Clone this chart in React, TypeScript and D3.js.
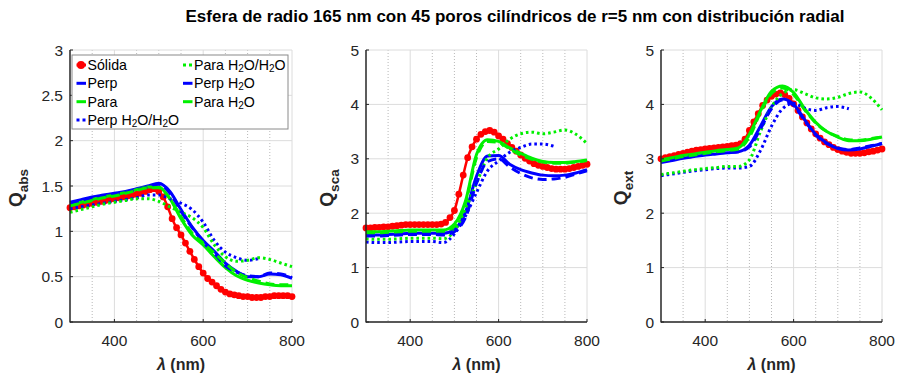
import React from 'react';
import * as d3 from 'd3';

// ---------- DATA ----------
const TITLE = 'Esfera de radio 165 nm con 45 poros cilíndricos de r=5 nm con distribución radial';
const LAMBDA_FINE = d3.range(300, 801, 10); // wavelengths of the "Sólida" samples
const LAMBDA = d3.range(300, 801, 25); // wavelengths of the other series
const X_TICKS = [400, 600, 800];
const X_MINOR = [350, 450, 500, 550, 650, 700, 750];
const ABS_TICKS = [0, 0.5, 1, 1.5, 2, 2.5, 3];
const SCA_TICKS = [0, 1, 2, 3, 4, 5];
const EXT_TICKS = [0, 1, 2, 3, 4, 5];

// Q_abs
const absSolida = [1.26,1.27,1.28,1.29,1.30,1.31,1.32,1.33,1.34,1.35,
  1.36,1.37,1.38,1.39,1.40,1.41,1.42,1.44,1.46,1.47,
  1.44,1.38,1.27,1.14,1.04,0.96,0.87,0.78,0.69,0.61,
  0.54,0.48,0.44,0.40,0.36,0.33,0.31,0.30,0.29,0.28,
  0.28,0.27,0.27,0.27,0.28,0.28,0.29,0.29,0.29,0.29,0.28];
const absPerp = [1.32,1.35,1.38,1.40,1.42,1.44,1.47,1.50,1.53,1.44,1.24,1.05,0.90,0.78,0.65,0.56,0.50,0.50,0.53,0.52,0.48];
const absPara = [1.29,1.32,1.35,1.38,1.40,1.43,1.46,1.49,1.49,1.36,1.14,0.96,0.85,0.72,0.60,0.51,0.46,0.43,0.41,0.40,0.40];
const absPerpWW = [1.25,1.27,1.29,1.31,1.33,1.35,1.37,1.40,1.40,1.36,1.31,1.24,1.10,0.90,0.77,0.71,0.68,0.70,null,null,null];
const absParaWW = [1.21,1.24,1.27,1.30,1.32,1.34,1.36,1.36,1.33,1.27,1.21,1.15,1.04,0.85,0.72,0.67,0.68,0.71,0.69,0.65,0.61];
const absPerpW = [1.31,1.34,1.37,1.39,1.41,1.43,1.46,1.49,1.52,1.42,1.22,1.04,0.88,0.76,0.62,0.55,0.51,0.50,0.54,0.53,0.49];
const absParaW = [1.28,1.31,1.34,1.37,1.39,1.42,1.45,1.48,1.48,1.36,1.16,0.98,0.87,0.76,0.65,0.55,0.49,0.45,0.42,0.41,0.41];

// Q_sca
const scaSolida = [1.73,1.73,1.74,1.74,1.75,1.75,1.76,1.77,1.78,1.79,
  1.79,1.79,1.79,1.79,1.79,1.79,1.79,1.80,1.83,1.92,
  2.05,2.35,2.70,3.02,3.22,3.36,3.45,3.50,3.52,3.49,
  3.42,3.36,3.28,3.21,3.14,3.07,3.01,2.96,2.91,2.88,
  2.86,2.84,2.82,2.81,2.81,2.81,2.82,2.84,2.86,2.88,2.90];
const scaPerp = [1.60,1.60,1.61,1.62,1.63,1.63,1.63,1.63,1.70,2.02,2.68,3.05,3.06,2.90,2.80,2.74,2.70,2.69,2.70,2.74,2.80];
const scaPara = [1.66,1.66,1.67,1.68,1.69,1.69,1.69,1.69,1.80,2.22,3.08,3.35,3.32,3.20,3.10,3.01,2.95,2.93,2.93,2.95,2.98];
const scaPerpWW = [1.47,1.46,1.46,1.47,1.48,1.48,1.48,1.46,1.62,1.95,2.38,2.78,2.96,3.12,3.21,3.27,3.27,3.23,null,null,null];
const scaParaWW = [1.53,1.52,1.52,1.53,1.54,1.54,1.54,1.53,1.68,2.08,2.55,3.02,3.18,3.36,3.46,3.49,3.46,3.49,3.53,3.45,3.28];
const scaPerpW = [1.58,1.58,1.59,1.60,1.61,1.61,1.61,1.60,1.66,1.92,2.55,2.95,3.00,2.85,2.73,2.65,2.62,2.63,2.66,2.72,2.78];
const scaParaW = [1.64,1.64,1.65,1.66,1.67,1.67,1.67,1.67,1.76,2.18,3.02,3.32,3.30,3.18,3.07,2.99,2.94,2.92,2.92,2.94,2.97];

// Q_ext
const extSolida = [3.00,3.02,3.04,3.06,3.08,3.10,3.12,3.14,3.16,3.17,
  3.18,3.19,3.20,3.21,3.22,3.23,3.24,3.25,3.28,3.36,
  3.52,3.68,3.83,3.98,4.08,4.15,4.19,4.21,4.18,4.11,
  4.01,3.89,3.77,3.66,3.55,3.46,3.38,3.31,3.26,3.21,
  3.17,3.14,3.12,3.10,3.10,3.10,3.11,3.13,3.14,3.16,3.18];
const extPerp = [2.93,2.97,3.01,3.04,3.07,3.09,3.11,3.13,3.25,3.60,3.96,4.10,4.00,3.72,3.45,3.29,3.19,3.16,3.18,3.23,3.28];
const extPara = [2.98,3.02,3.06,3.09,3.12,3.15,3.17,3.20,3.45,3.88,4.24,4.34,4.22,3.92,3.67,3.50,3.40,3.33,3.33,3.36,3.40];
const extPerpWW = [2.69,2.72,2.75,2.78,2.80,2.82,2.83,2.83,2.86,3.15,3.60,3.92,4.02,3.93,3.89,3.94,3.96,3.92,null,null,null];
const extParaWW = [2.71,2.74,2.77,2.80,2.82,2.84,2.86,2.86,2.98,3.50,3.95,4.20,4.27,4.20,4.12,4.10,4.13,4.20,4.23,4.12,3.90];
const extPerpW = [2.95,2.99,3.03,3.06,3.08,3.10,3.12,3.13,3.22,3.55,3.92,4.08,3.98,3.70,3.44,3.28,3.20,3.17,3.20,3.24,3.28];
const extParaW = [2.96,3.00,3.04,3.07,3.10,3.13,3.15,3.18,3.40,3.85,4.20,4.30,4.18,3.90,3.66,3.50,3.41,3.35,3.34,3.37,3.40];

// ---------- STYLE ----------
const RED = '#ff0000';
const BLUE = '#0000ff';
const GREEN = '#00f000';
const FONT = '"Liberation Sans", Arial, Helvetica, sans-serif';
const TXT = '#262626';

type Style = { color: string; dash: string | null; marker?: boolean; width: number };
const STYLES: Record<string, Style> = {
  solida: { color: RED, dash: null, marker: true, width: 2.5 },
  perp: { color: BLUE, dash: null, width: 3 },
  para: { color: GREEN, dash: null, width: 3 },
  perpWW: { color: BLUE, dash: '2.6,3', width: 3 },
  paraWW: { color: GREEN, dash: '2.6,3', width: 3 },
  perpW: { color: BLUE, dash: '9,5', width: 3 },
  paraW: { color: GREEN, dash: '9,5', width: 3 },
};

const PANELS = [
  { left: 70, right: 292, yMax: 3, ticks: ABS_TICKS, sub: 'abs', labelX: 22,
    solida: absSolida, perp: absPerp, para: absPara, perpWW: absPerpWW, paraWW: absParaWW, perpW: absPerpW, paraW: absParaW },
  { left: 366, right: 587, yMax: 5, ticks: SCA_TICKS, sub: 'sca', labelX: 333,
    solida: scaSolida, perp: scaPerp, para: scaPara, perpWW: scaPerpWW, paraWW: scaParaWW, perpW: scaPerpW, paraW: scaParaW },
  { left: 661, right: 882, yMax: 5, ticks: EXT_TICKS, sub: 'ext', labelX: 627,
    solida: extSolida, perp: extPerp, para: extPara, perpWW: extPerpWW, paraWW: extParaWW, perpW: extPerpW, paraW: extParaW },
];
const TOP = 50;
const BOTTOM = 322;

const ORDER = ['solida', 'perp', 'para', 'perpWW', 'paraWW', 'perpW', 'paraW'];

function Panel({ p }: { p: any }) {
  const x = d3.scaleLinear().domain([300, 800]).range([p.left, p.right]);
  const y = d3.scaleLinear().domain([0, p.yMax]).range([BOTTOM, TOP]);
  const lineFine = d3.line<number>().x((_, i) => x(LAMBDA_FINE[i])).y((d) => y(d)).curve(d3.curveMonotoneX);
  const line = d3
    .line<number | null>()
    .defined((d) => d != null)
    .x((_, i) => x(LAMBDA[i]))
    .y((d) => y(d as number))
    .curve(d3.curveMonotoneX);
  const cx = (p.left + p.right) / 2;
  return (
    <g>
      {X_MINOR.map((v) => (
        <line key={'m' + v} x1={x(v)} x2={x(v)} y1={TOP} y2={BOTTOM} stroke="#b8b8b8" strokeWidth={1} strokeDasharray="1,2" />
      ))}
      {X_TICKS.map((v) => (
        <line key={'g' + v} x1={x(v)} x2={x(v)} y1={TOP} y2={BOTTOM} stroke="#dcdcdc" strokeWidth={1} />
      ))}
      {p.ticks.map((v: number) => (
        <line key={'gy' + v} x1={p.left} x2={p.right} y1={y(v)} y2={y(v)} stroke="#dcdcdc" strokeWidth={1} />
      ))}
      {ORDER.map((k) => {
        const s = STYLES[k];
        const d = k === 'solida' ? lineFine(p[k]) : line(p[k]);
        return (
          <g key={k}>
            <path d={d || ''} fill="none" stroke={s.color} strokeWidth={s.width} strokeDasharray={s.dash || undefined} strokeLinejoin="round" />
            {s.marker &&
              p[k].map((v: number, i: number) => (
                <circle key={i} cx={x(LAMBDA_FINE[i])} cy={y(v)} r={3.4} fill={s.color} />
              ))}
          </g>
        );
      })}
      <line x1={p.left} x2={p.left} y1={TOP} y2={BOTTOM + 0.5} stroke="#262626" strokeWidth={1.5} />
      <line x1={p.left} x2={p.right} y1={BOTTOM} y2={BOTTOM} stroke="#262626" strokeWidth={1.5} />
      {X_TICKS.map((v) => (
        <g key={'xt' + v}>
          <line x1={x(v)} x2={x(v)} y1={BOTTOM} y2={BOTTOM - 3} stroke="#262626" strokeWidth={1} />
          <text x={x(v)} y={346} textAnchor="middle" fontSize={15.5} fill={TXT} fontFamily={FONT}>{v}</text>
        </g>
      ))}
      {p.ticks.map((v: number) => (
        <g key={'yt' + v}>
          <line x1={p.left} x2={p.left + 3} y1={y(v)} y2={y(v)} stroke="#262626" strokeWidth={1} />
          <text x={p.left - 7} y={y(v) + 5.5} textAnchor="end" fontSize={15.5} fill={TXT} fontFamily={FONT}>{String(v)}</text>
        </g>
      ))}
      <text x={cx} y={370} textAnchor="middle" fontSize={16} fontWeight="bold" fill={TXT} fontFamily={FONT}>
        <tspan fontStyle="italic">λ</tspan> (nm)
      </text>
      <text transform={`translate(${p.labelX},188) rotate(-90)`} textAnchor="middle" fontSize={19} fontWeight="bold" fill={TXT} fontFamily={FONT}>
        Q<tspan fontSize={13.5} dy={6}>{p.sub}</tspan>
      </text>
    </g>
  );
}

const LEGEND = [
  { key: 'solida', label: ['Sólida'] },
  { key: 'perp', label: ['Perp'] },
  { key: 'para', label: ['Para'] },
  { key: 'perpWW', label: ['Perp H', '2', 'O/H', '2', 'O'] },
  { key: 'paraWW', label: ['Para H', '2', 'O/H', '2', 'O'] },
  { key: 'perpW', label: ['Perp H', '2', 'O'] },
  { key: 'paraW', label: ['Para H', '2', 'O'] },
];

function Legend() {
  const rows = [65, 83.3, 101.7, 120];
  return (
    <g>
      <rect x={72} y={55} width={216} height={74} fill="#fff" stroke="#8a8a8a" strokeWidth={1} />
      {LEGEND.map((e, i) => {
        const col = i < 4 ? 0 : 1;
        const row = i < 4 ? i : i - 4;
        const x0 = col === 0 ? 76.5 : 183;
        const yc = rows[row];
        const s = STYLES[e.key];
        const dotted = s.dash && s.dash.startsWith('2.6');
        return (
          <g key={e.key}>
            {dotted ? (
              <g>
                <rect x={x0} y={yc - 1.5} width={3} height={3} fill={s.color} />
                <rect x={x0 + 6} y={yc - 1.5} width={3} height={3} fill={s.color} />
              </g>
            ) : (
              <line x1={x0} x2={x0 + 9.5} y1={yc} y2={yc} stroke={s.color} strokeWidth={3} />
            )}
            {s.marker && <circle cx={x0 + 4.5} cy={yc} r={4} fill={s.color} />}
            <text x={x0 + 11} y={yc + 5} fontSize={14.2} fill="#000" fontFamily={FONT}>
              {e.label.map((t, j) =>
                j % 2 === 1 ? (
                  <tspan key={j} fontSize={10} dy={2}>{t}</tspan>
                ) : (
                  <tspan key={j} dy={j === 0 ? 0 : -2}>{t}</tspan>
                )
              )}
            </text>
          </g>
        );
      })}
    </g>
  );
}

export default function App() {
  return (
    <svg width={898} height={379} style={{ position: 'absolute', left: 0, top: 0, background: '#fff' }}>
      <rect width={898} height={379} fill="#fff" />
      <text x={515} y={22} textAnchor="middle" fontSize={17} fontWeight="bold" fill="#000" fontFamily={FONT}>{TITLE}</text>
      {PANELS.map((p, i) => (
        <Panel key={i} p={p} />
      ))}
      <Legend />
    </svg>
  );
}
